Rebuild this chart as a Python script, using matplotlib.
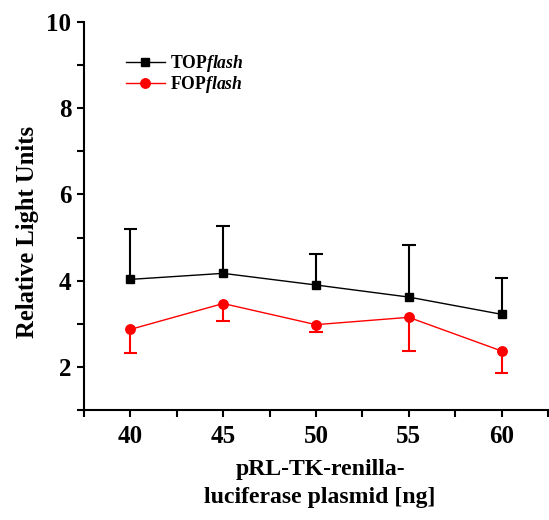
import numpy as np
import matplotlib
matplotlib.use("Agg")
import matplotlib.pyplot as plt
from matplotlib.ticker import MultipleLocator

plt.rcParams['font.family'] = 'Liberation Serif'
plt.rcParams['font.weight'] = 'bold'
plt.rcParams['mathtext.fontset'] = 'custom'
plt.rcParams['mathtext.it'] = 'Liberation Serif:italic:bold'

# data
plasmid = np.array([40, 45, 50, 55, 60])
top_mean = np.array([4.03, 4.17, 3.90, 3.62, 3.22])
top_err = np.array([1.16, 1.09, 0.71, 1.20, 0.85])
fop_mean = np.array([2.87, 3.47, 2.98, 3.15, 2.37])
fop_err = np.array([0.55, 0.41, 0.17, 0.78, 0.51])

fig = plt.figure(figsize=(5.49, 5.20), dpi=100)
ax = fig.add_axes([0.153, 0.2115, 0.845, 0.7462])

cap = 0.37  # half width of the error caps, in x units

# one sided error bars: TOP goes up, FOP goes down
ax.vlines(plasmid, top_mean, top_mean + top_err, color='black', lw=1.5, zorder=2)
ax.hlines(top_mean + top_err, plasmid - cap, plasmid + cap, color='black', lw=1.5, zorder=2)
ax.vlines(plasmid, fop_mean - fop_err, fop_mean, color='red', lw=1.5, zorder=2)
ax.hlines(fop_mean - fop_err, plasmid - cap, plasmid + cap, color='red', lw=1.5, zorder=2)

ax.plot(plasmid, top_mean, color='black', marker='s', markersize=6, lw=1,
        label='TOP$\\mathit{flash}$', zorder=3)
ax.plot(plasmid, fop_mean, color='red', marker='o', markersize=6.8, lw=1,
        label='FOP$\\mathit{flash}$', zorder=3)

ax.set_xlim(37.5, 62.5)
ax.set_ylim(1, 10)
ax.xaxis.set_major_locator(MultipleLocator(5))
ax.xaxis.set_minor_locator(MultipleLocator(2.5))
ax.yaxis.set_minor_locator(MultipleLocator(1))
ax.set_yticks([2, 4, 6, 8, 10])

for s in ['top', 'right']:
    ax.spines[s].set_visible(False)
for s in ['left', 'bottom']:
    ax.spines[s].set_linewidth(1.5)
ax.tick_params(which='major', direction='out', length=5, width=1.5, labelsize=18)
ax.tick_params(which='minor', direction='out', length=5, width=1.5)
ax.tick_params(axis='y', pad=4)
ax.tick_params(axis='x', pad=6)

ax.set_ylabel('Relative Light Units', fontsize=17.7, fontweight='bold')
ax.yaxis.set_label_coords(-0.097, 0.46)
ax.set_xlabel('pRL-TK-renilla-\nluciferase plasmid [ng]', fontsize=17.1,
              fontweight='bold', linespacing=1.45)
ax.xaxis.set_label_coords(0.509, -0.125)

ax.legend(loc='upper left', bbox_to_anchor=(0.09, 0.92), frameon=False,
          fontsize=12.7, handlelength=2.2, handletextpad=0.3, labelspacing=0.0,
          borderpad=0, borderaxespad=0)

fig.savefig('out.png', dpi=100)
